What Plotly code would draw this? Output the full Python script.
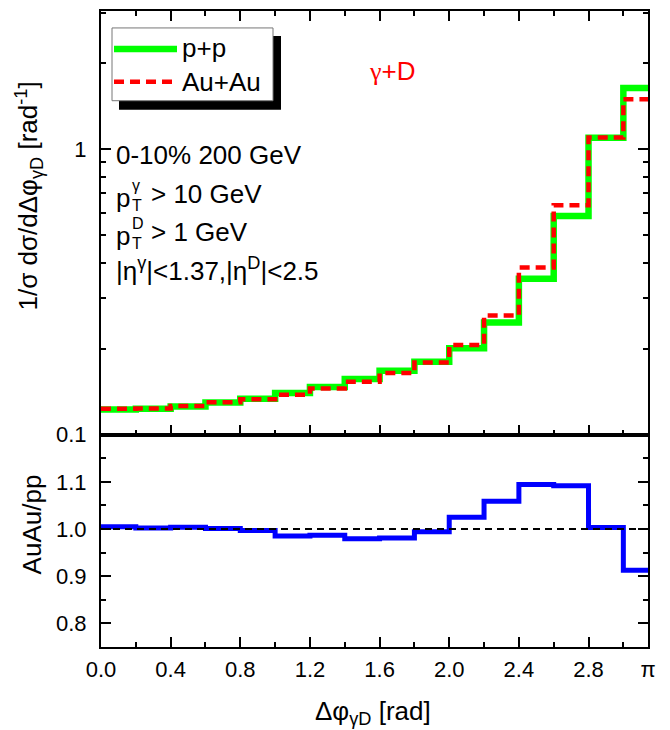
import math
import plotly.graph_objects as go

# Bin edges in delta-phi (rad): 0.2-wide bins, last bin closes at pi
bin_edges = [0.0, 0.2, 0.4, 0.6, 0.8, 1.0, 1.2, 1.4, 1.6, 1.8,
             2.0, 2.2, 2.4, 2.6, 2.8, 3.0, math.pi]

# Normalised gamma+D azimuthal correlation, one value per bin
pp_vals = [0.1226, 0.1232, 0.1254, 0.1297, 0.1335, 0.1400, 0.1470, 0.1566,
           0.1675, 0.1800, 0.2010, 0.2470, 0.3520, 0.5830, 1.096, 1.640]
auau_vals = [0.1232, 0.1234, 0.1259, 0.1298, 0.1331, 0.1379, 0.1451, 0.1534,
             0.1643, 0.1789, 0.2060, 0.2616, 0.3853, 0.6364, 1.099, 1.497]

# AuAu / pp ratio per bin
ratio_vals = [1.005, 1.002, 1.004, 1.001, 0.997, 0.985, 0.987, 0.9795,
              0.981, 0.994, 1.025, 1.059, 1.0945, 1.0916, 1.003, 0.9126]

x_tick_vals = [0.0, 0.4, 0.8, 1.2, 1.6, 2.0, 2.4, 2.8, math.pi]
x_tick_text = ["0.0", "0.4", "0.8", "1.2", "1.6", "2.0", "2.4", "2.8", "π"]
x_minor_vals = [0.2, 0.6, 1.0, 1.4, 1.8, 2.2, 2.6, 3.0]
top_y_tick_vals = [0.1, 1.0]
top_y_tick_text = ["0.1", "1"]
top_y_minor_vals = [0.2, 0.3, 0.4, 0.5, 0.6, 0.7, 0.8, 0.9, 2.0, 3.0]
bot_y_tick_vals = [0.8, 0.9, 1.0, 1.1]
bot_y_tick_text = ["0.8", "0.9", "1.0", "1.1"]
bot_y_minor_vals = [0.75, 0.85, 0.95, 1.05, 1.15]
ratio_reference = 1.0

FONT = "Liberation Sans, Arial, sans-serif"
GREEN = "#00ff00"
RED = "#ff0000"
BLUE = "#0000ff"

W, H = 670, 730
L, R, T, B = 101, 648, 9, 647
SPLIT = 434  # pixel row of the border between the two panels
split_frac = (B - SPLIT) / (B - T)


def px_x(px):
    return (px - L) / (R - L)


def px_y(py):
    return (B - py) / (B - T)


def steps(vals):
    # repeat last value so the 'hv' step covers the final bin
    return list(vals) + [vals[-1]]


fig = go.Figure()
fig.add_trace(go.Scatter(x=bin_edges, y=steps(pp_vals), mode="lines",
                         line=dict(color=GREEN, width=6.5, shape="hv"),
                         name="p+p", xaxis="x", yaxis="y", showlegend=False))
fig.add_trace(go.Scatter(x=bin_edges, y=steps(auau_vals), mode="lines",
                         line=dict(color=RED, width=4.5, shape="hv", dash="10px,6px"),
                         name="Au+Au", xaxis="x", yaxis="y", showlegend=False))
fig.add_trace(go.Scatter(x=bin_edges, y=steps(ratio_vals), mode="lines",
                         line=dict(color=BLUE, width=5, shape="hv"),
                         name="AuAu/pp", xaxis="x2", yaxis="y2", showlegend=False))

tickfont = dict(family=FONT, size=22, color="black")
common_axis = dict(showgrid=False, zeroline=False, showline=True, linecolor="black",
                   linewidth=2, ticks="inside", tickcolor="black", tickwidth=2,
                   ticklen=10, tickfont=tickfont)
minor_ticks = dict(tickmode="array", ticks="inside", ticklen=5, tickwidth=2,
                   tickcolor="black")

fig.update_layout(
    width=W, height=H,
    margin=dict(l=L, r=W - R, t=T, b=H - B),
    paper_bgcolor="white", plot_bgcolor="white",
    font=dict(family=FONT, color="black"),
    showlegend=False,
    xaxis=dict(common_axis, domain=[0, 1], range=[0, math.pi], anchor="y",
               tickmode="array", tickvals=x_tick_vals[:-1], showticklabels=False,
               mirror="ticks", minor=dict(minor_ticks, tickvals=x_minor_vals)),
    yaxis=dict(common_axis, domain=[split_frac, 1], type="log",
               range=[-1, math.log10(3.05)], anchor="x",
               tickmode="array", tickvals=top_y_tick_vals, ticktext=top_y_tick_text,
               mirror="ticks", ticklabelstandoff=8,
               minor=dict(minor_ticks, tickvals=top_y_minor_vals)),
    xaxis2=dict(common_axis, domain=[0, 1], range=[0, math.pi], anchor="y2",
                tickmode="array", tickvals=x_tick_vals, ticktext=x_tick_text,
                mirror=True, ticklabelstandoff=2,
                minor=dict(minor_ticks, tickvals=x_minor_vals)),
    yaxis2=dict(common_axis, domain=[0, split_frac], range=[0.75, 1.2], anchor="x2",
                tickmode="array", tickvals=bot_y_tick_vals, ticktext=bot_y_tick_text,
                mirror="ticks", ticklabelstandoff=8,
                minor=dict(minor_ticks, tickvals=bot_y_minor_vals)),
)

shapes = []
# unity reference line in the ratio panel
shapes.append(dict(type="line", xref="x2", yref="y2", x0=0, x1=math.pi,
                   y0=ratio_reference, y1=ratio_reference, layer="above",
                   line=dict(color="black", width=2, dash="7px,5px")))
# legend box with drop shadow
shapes.append(dict(type="rect", xref="paper", yref="paper",
                   x0=px_x(119), x1=px_x(281), y0=px_y(108), y1=px_y(34),
                   fillcolor="black", line=dict(width=0), layer="above"))
shapes.append(dict(type="rect", xref="paper", yref="paper",
                   x0=px_x(112), x1=px_x(273), y0=px_y(99), y1=px_y(26),
                   fillcolor="white", line=dict(color="#777777", width=1), layer="above"))
shapes.append(dict(type="line", xref="paper", yref="paper",
                   x0=px_x(114), x1=px_x(177), y0=px_y(47), y1=px_y(47),
                   line=dict(color=GREEN, width=6.5), layer="above"))
shapes.append(dict(type="line", xref="paper", yref="paper",
                   x0=px_x(114), x1=px_x(177), y0=px_y(80), y1=px_y(80),
                   line=dict(color=RED, width=4.5, dash="10px,6px"), layer="above"))
fig.update_layout(shapes=shapes)

ann = []


def text(px, py, s, size=26, color="black", xanchor="left", angle=0, yanchor="middle"):
    ann.append(dict(xref="paper", yref="paper", x=px_x(px), y=px_y(py), text=s,
                    showarrow=False, xanchor=xanchor, yanchor=yanchor, textangle=angle,
                    borderpad=0,
                    font=dict(family=FONT, size=size, color=color)))


# legend labels
text(181, 46, "p+p")
text(181, 80, "Au+Au")

# red channel label
text(392, 69, '<span style="font-family:Liberation Serif">γ</span>+D',
     size=26, color=RED, xanchor="center")

# kinematic cuts
text(115, 153, "0-10% 200 GeV")
text(115, 197, "p")
text(131, 194, "γ", size=16, yanchor="bottom")
text(131, 195, "T", size=16, yanchor="top")
text(150, 193, "> 10 GeV")
text(115, 235, "p")
text(131, 232, "D", size=16, yanchor="bottom")
text(131, 233, "T", size=16, yanchor="top")
text(150, 231, "> 1 GeV")
text(115, 268, "|η<sup>γ</sup>|<1.37,|η<sup>D</sup>|<2.5")

# axis titles
text(29, 195, "1/σ dσ/dΔφ<sub>γD</sub> [rad<sup>-1</sup>]", size=26,
     xanchor="center", angle=-90)
text(32, 524, "AuAu/pp", size=26, xanchor="center", angle=-90)
text(373, 713, "Δφ<sub>γD</sub> [rad]", size=26, xanchor="center")

fig.update_layout(annotations=ann)

fig.write_html("out.html")
